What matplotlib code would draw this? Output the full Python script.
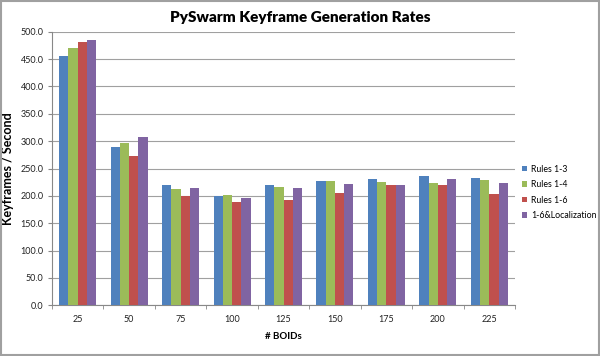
import matplotlib
matplotlib.use("Agg")
import matplotlib.pyplot as plt
import numpy as np
from matplotlib.patches import Rectangle

categories = ["25", "50", "75", "100", "125", "150", "175", "200", "225"]
series_names = ["Rules 1-3", "Rules 1-4", "Rules 1-6", "1-6&Localization"]
rules_1_3 = [456, 289, 219, 200, 220, 228, 230, 237, 233]
rules_1_4 = [471, 297, 213, 202, 217, 228, 226, 224, 229]
rules_1_6 = [482, 273, 200, 188, 193, 206, 220, 220, 204]
rules_loc = [484, 308, 214, 197, 215, 222, 220, 230, 224]
yticks = [0, 50, 100, 150, 200, 250, 300, 350, 400, 450, 500]

colors = ["#4F81BD", "#9BBB59", "#C0504D", "#8064A2"]
plt.rcParams['font.family'] = ['Lato', 'DejaVu Sans']

fig = plt.figure(figsize=(6.0, 3.56), dpi=100)
ax = fig.add_axes([52/600, 1 - 305.3/356, (515-52)/600, (305.3-31.7)/356])

x = np.arange(len(categories))
bw = 0.18
all_series = [rules_1_3, rules_1_4, rules_1_6, rules_loc]
for i, (vals, name, c) in enumerate(zip(all_series, series_names, colors)):
    ax.bar(x + (i - 1.5) * bw, vals, bw, color=c, label=name, zorder=3, linewidth=0)

ax.set_xlim(-0.5, len(categories) - 0.5)
ax.set_ylim(0, 500)
ax.set_yticks(yticks)
ax.set_yticklabels([f"{v:.1f}" for v in yticks], fontsize=6.5, color="#222222")
ax.set_xticks(x)
ax.set_xticklabels(categories, fontsize=6.5, color="#222222")
ax.set_xticks(np.arange(-0.5, len(categories), 1), minor=True)
ax.tick_params(axis='x', which='major', length=0, pad=7)
ax.tick_params(axis='x', which='minor', length=3, color="#888888")
ax.tick_params(axis='y', length=3, color="#888888", pad=3)
ax.yaxis.grid(True, color="#A0A0A0", linewidth=0.8, zorder=0)
for s in ["top", "right"]:
    ax.spines[s].set_visible(False)
ax.spines["left"].set_color("#888888")
ax.spines["bottom"].set_color("#888888")

ax.set_ylabel("Keyframes / Second", fontsize=9, fontweight="bold")
ax.yaxis.set_label_coords(-0.082, 0.5)
ax.set_xlabel("# BOIDs", fontsize=7, fontweight="bold", labelpad=6)
fig.text(0.5, 1 - 17/356, "PySwarm Keyframe Generation Rates", ha="center", va="center",
         fontsize=11, fontweight="heavy")

leg = ax.legend(loc="upper left", bbox_to_anchor=(1.008, 0.527), frameon=False,
                fontsize=6.3, handlelength=0.6, handleheight=0.6, handletextpad=0.4,
                labelspacing=0.75, borderaxespad=0)

fig.patches.append(Rectangle((0.002, 0.004), 0.996, 0.992, transform=fig.transFigure,
                             fill=False, edgecolor="#A0A0A0", linewidth=1.5))

fig.savefig("out.png", dpi=100)
